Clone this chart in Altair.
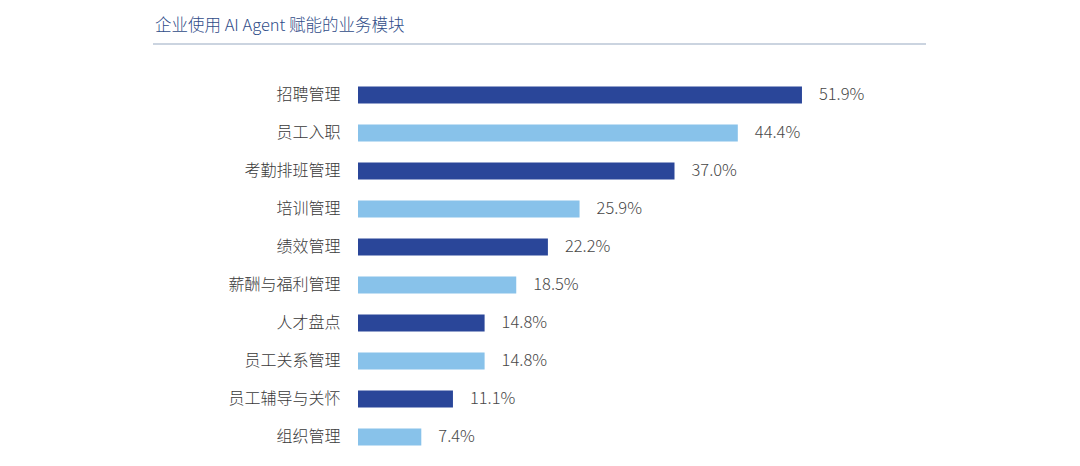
"""Horizontal bar chart: business modules empowered by AI Agent"""

import altair as alt
import pandas as pd


modules = ["招聘管理", "员工入职", "考勤排班管理", "培训管理", "绩效管理",
           "薪酬与福利管理", "人才盘点", "员工关系管理", "员工辅导与关怀", "组织管理"]
shares = [51.9, 44.4, 37.0, 25.9, 22.2, 18.5, 14.8, 14.8, 11.1, 7.4]
tones = ["dark", "light", "dark", "light", "dark", "light", "dark", "light", "dark", "light"]

TITLE = "企业使用 AI Agent 赋能的业务模块"
FONT = "Noto Sans CJK SC"
DARK = "#2a4699"
LIGHT = "#88c2ea"

df = pd.DataFrame({"module": modules, "share": shares, "tone": tones})
df["label"] = df["share"].map(lambda v: f"{v:.1f}%")

y_enc = alt.Y(
    "module:N", sort=modules, title=None,
    scale=alt.Scale(paddingInner=0.55, paddingOuter=0.275),
    axis=alt.Axis(domain=False, ticks=False, labelFont=FONT, labelFontSize=16,
                  labelFontWeight=300, labelColor="#3a3a3a", labelPadding=18),
)
x_enc = alt.X("share:Q", title=None, axis=None, scale=alt.Scale(domain=[0, 66.4]))

base = alt.Chart(df)

bars = base.mark_bar().encode(
    x=x_enc,
    y=y_enc,
    color=alt.Color("tone:N", scale=alt.Scale(domain=["dark", "light"], range=[DARK, LIGHT]),
                    legend=None),
)

labels = base.mark_text(align="left", dx=17, font=FONT, fontSize=16.5, fontWeight=300,
                        color="#474747").encode(
    x=x_enc, y=y_enc, text="label:N"
)

title = alt.Chart(pd.DataFrame({"t": [TITLE]})).mark_text(
    align="left", baseline="middle", font=FONT, fontSize=16.5, fontWeight=300, color="#2f4c88"
).encode(x=alt.value(-203), y=alt.value(-50), text="t:N")

underline = alt.Chart(pd.DataFrame({"a": [0]})).mark_rule(
    color="#97a9c2", strokeWidth=1.2
).encode(x=alt.value(-205), x2=alt.value(568), y=alt.value(-32))

chart = (bars + labels + title + underline).properties(
    width=568, height=380,
    autosize=alt.AutoSizeParams(type="none"),
    padding={"left": 350, "top": 68, "right": 146, "bottom": 9},
).configure_view(stroke=None)

chart.save("out.html", embed_options={"renderer": "svg", "actions": False})
